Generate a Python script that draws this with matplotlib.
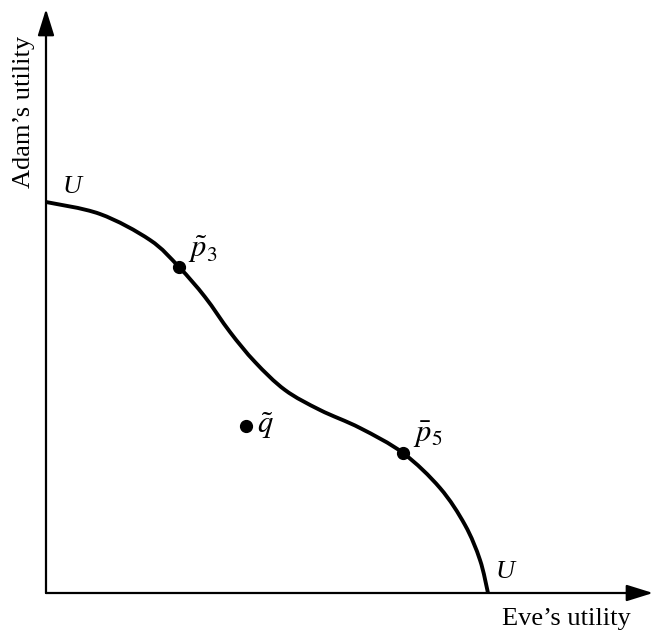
import matplotlib.pyplot as plt
from matplotlib.path import Path
from matplotlib.patches import PathPatch

plt.rcParams['font.family'] = ['Liberation Serif', 'DejaVu Serif']
plt.rcParams['mathtext.fontset'] = 'stix'

# utility possibility frontier U-U (Eve, Adam)
eve_u = [0, 54, 104, 133, 159, 184, 209, 239, 274, 314, 357, 394, 419, 434, 442]
adam_u = [391, 379, 353, 326, 296, 261, 231, 203, 183, 165, 140, 105, 68, 33, 0]

# marked points
pt_names = [r'$\tilde{p}_3$', r'$\bar{p}_5$', r'$\tilde{q}$']
pt_eve = [133, 357, 200]
pt_adam = [326, 140, 167]


def smooth_path(xs, ys):
    # draw the read points as one smooth curve (Catmull-Rom as cubic Beziers)
    pts = list(zip(xs, ys))
    verts = [pts[0]]
    codes = [Path.MOVETO]
    for i in range(len(pts) - 1):
        p0 = pts[i - 1] if i > 0 else pts[i]
        p1 = pts[i]
        p2 = pts[i + 1]
        p3 = pts[i + 2] if i + 2 < len(pts) else pts[i + 1]
        c1 = (p1[0] + (p2[0] - p0[0]) / 6, p1[1] + (p2[1] - p0[1]) / 6)
        c2 = (p2[0] - (p3[0] - p1[0]) / 6, p2[1] - (p3[1] - p1[1]) / 6)
        verts += [c1, c2, p2]
        codes += [Path.CURVE4] * 3
    return Path(verts, codes)


fig = plt.figure(figsize=(6.54, 6.39), dpi=100)
ax = fig.add_axes([0, 0, 1, 1])
ax.set_xlim(-46, 608)
ax.set_ylim(-46, 593)
ax.axis('off')

# axes with arrow heads
ax.annotate('', xy=(0, 584), xytext=(0, 0),
            arrowprops=dict(arrowstyle='-|>,head_length=0.9,head_width=0.28',
                            mutation_scale=18, lw=1.6, color='black',
                            shrinkA=0, shrinkB=0))
ax.annotate('', xy=(607, 0), xytext=(0, 0),
            arrowprops=dict(arrowstyle='-|>,head_length=0.9,head_width=0.28',
                            mutation_scale=18, lw=1.6, color='black',
                            shrinkA=0, shrinkB=0))

# frontier
ax.add_patch(PathPatch(smooth_path(eve_u, adam_u), facecolor='none',
                       edgecolor='black', lw=2.8, capstyle='butt'))

# points
ax.plot(pt_eve, pt_adam, 'o', color='black', markersize=8.5)
offsets = [(9, 18), (10, 18), (11, 0)]
for name, x, y, (dx, dy) in zip(pt_names, pt_eve, pt_adam, offsets):
    ax.text(x + dx, y + dy, name, fontsize=22, ha='left', va='center')

# U labels
ax.text(17, 406, 'U', fontsize=19, style='italic', ha='left', va='center')
ax.text(450, 21, 'U', fontsize=19, style='italic', ha='left', va='center')

# axis titles
ax.text(520, -26, 'Eve\u2019s utility', fontsize=19, ha='center', va='center')
ax.text(-22, 481, 'Adam\u2019s utility', fontsize=19, ha='center', va='center',
        rotation=90)

plt.savefig('out.png', dpi=100)
